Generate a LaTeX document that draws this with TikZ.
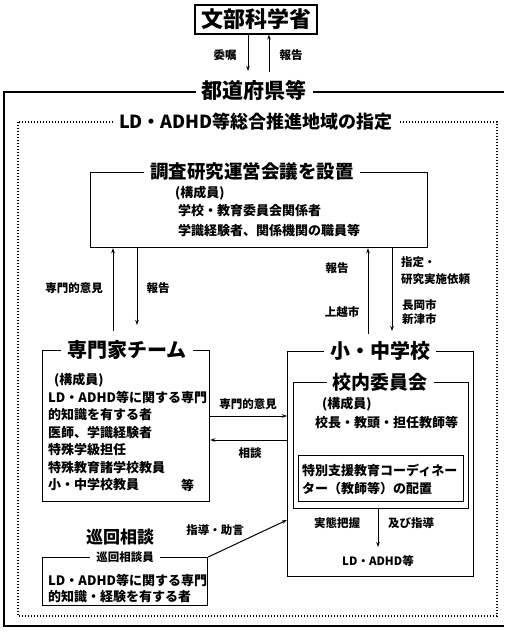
\documentclass[tikz,border=0pt]{standalone}
\usepackage{fontspec}
\setmainfont{Noto Sans CJK JP}
\usetikzlibrary{arrows.meta}
\begin{document}
\begin{tikzpicture}[x=1pt,y=-1pt,
  box/.style={draw, line width=1.2pt, anchor=north west, inner sep=0pt},
  ttl/.style={fill=white, inner xsep=6pt, inner ysep=1pt},
  big/.style={font=\bfseries\fontsize{20}{22}\selectfont},
  sm/.style={font=\bfseries\fontsize{13}{15}\selectfont, inner sep=0pt, anchor=west},
  lbl/.style={font=\bfseries\fontsize{11.5}{13}\selectfont, inner sep=0pt},
  arr/.style={line width=1pt, -{Stealth[length=5pt,width=3.5pt]}},
  dotframe/.style={line width=1.8pt, dash pattern=on 1.3pt off 1.7pt}
]
\useasboundingbox (0,0) rectangle (504,637);

% MEXT
\node[draw, line width=1.3pt, minimum width=122pt, minimum height=29pt, inner sep=0pt,
      font=\bfseries\fontsize{22}{24}\selectfont] (mext) at (256,19.5) {文部科学省};
\coordinate (pa) at (248,71);
\coordinate (pb) at (269,72);
\draw[arr] (mext.south -| pa) -- (pa);
\draw[arr] (pb) -- (mext.south -| pb);
\node[lbl] (l1) at (225,55) {委嘱};
\node[lbl] (l2) at (291,55) {報告};

% outer solid frame
\draw[line width=1.6pt] (504,92) -- (4,92) -- (4,626) -- (504,626);
\node[ttl, font=\bfseries\fontsize{21}{23}\selectfont] (pref) at (254,90) {都道府県等};

% dotted frame
\draw[dotframe] (18,122) rectangle (497,616);
\node[ttl, font=\bfseries\fontsize{18}{20}\selectfont] (area) at (256,122) {LD・ADHD等総合推進地域の指定};

% council
\node[box, minimum width=337pt, minimum height=75pt] (council) at (90,172) {};
\node[ttl, font=\bfseries\fontsize{18.5}{20}\selectfont] (councilT) at (252,172) {調査研究運営会議を設置};
\node[sm] (c1) at (175,193) {(構成員)};
\node[sm] (c2) at (178,211) {学校・教育委員会関係者};
\node[sm] (c3) at (178,231) {学識経験者、関係機関の職員等};

% arrows council <-> expert / school
\coordinate (e1) at (113,331);
\coordinate (e2) at (137,325);
\coordinate (s1) at (368,334);
\coordinate (s2) at (392,331);
\draw[arr] (e1) -- (council.south -| e1);
\draw[arr] (council.south -| e2) -- (e2);
\draw[arr] (s1) -- (council.south -| s1);
\draw[arr] (council.south -| s2) -- (s2);
\node[lbl] (l3) at (74,288) {専門的意見};
\node[lbl] (l4) at (158,288) {報告};
\node[lbl] (l5) at (337,268) {報告};
\node[lbl, anchor=west] (l6) at (401,262) {指定・};
\node[lbl, anchor=west] (l7) at (401,279) {研究実施依頼};
\node[lbl] (l8) at (342,312) {上越市};
\node[lbl, anchor=west] (l9) at (402,305) {長岡市};
\node[lbl, anchor=west] (l10) at (402,319) {新津市};

% expert team
\node[box, minimum width=167pt, minimum height=151pt] (expert) at (42,350) {};
\node[ttl, big] (expertT) at (127,350) {専門家チーム};
\node[sm] (x1) at (54,380) {(構成員)};
\node[sm] (x2) at (48,397.5) {LD・ADHD等に関する専門};
\node[sm] (x3) at (48,415) {的知識を有する者};
\node[sm] (x4) at (48,432.5) {医師、学識経験者};
\node[sm] (x5) at (48,450) {特殊学級担任};
\node[sm] (x6) at (48,467.5) {特殊教育諸学校教員};
\node[sm] (x7) at (48,485) {小・中学校教員};
\node[sm] (x8) at (181,485) {等};

% school
\node[box, minimum width=186pt, minimum height=225pt] (school) at (287,351) {};
\node[ttl, big] (schoolT) at (380,351) {小・中学校};
\node[box, minimum width=175pt, minimum height=126pt] (comm) at (293,382) {};
\node[ttl, font=\bfseries\fontsize{19}{21}\selectfont] (commT) at (380,382) {校内委員会};
\node[sm] (k1) at (322,404) {(構成員)};
\node[sm] (k2) at (315,423) {校長・教頭・担任教師等};
\node[box, minimum width=165pt, minimum height=46pt] (coord) at (298,455) {};
\node[sm] (k3) at (302,470) {特別支援教育コーディネー};
\node[sm] (k4) at (302,489) {ター（教師等）の配置};

% expert <-> school
\draw[arr] (expert.east |- 0,416) -- (school.west |- 0,416);
\draw[arr] (school.west |- 0,440) -- (expert.east |- 0,440);
\node[lbl] (l11) at (248,404) {専門的意見};
\node[lbl] (l12) at (250,453) {相談};

% school -> LD/ADHD
\coordinate (ld) at (378,547);
\draw[arr] (comm.south -| ld) -- (ld);
\node[lbl] (l13) at (337,523) {実態把握};
\node[lbl] (l14) at (411,523) {及び指導};
\node[lbl] (ldadhd) at (378,561) {LD・ADHD等};

% junkai
\node[font=\bfseries\fontsize{17}{19}\selectfont, inner sep=0pt] (junT) at (120,537) {巡回相談};
\node[box, minimum width=165pt, minimum height=48pt] (jun) at (42,557) {};
\node[ttl, font=\bfseries\fontsize{11.5}{13}\selectfont, inner ysep=0pt] (junS) at (125,557) {巡回相談員};
\node[sm] (j1) at (48,580) {LD・ADHD等に関する専門};
\node[sm] (j2) at (48,597) {的知識・経験を有する者};
\draw[arr] (jun.north east) -- (school.west |- 0,520);
\node[lbl] (l15) at (215,530) {指導・助言};
\end{tikzpicture}
\end{document}
